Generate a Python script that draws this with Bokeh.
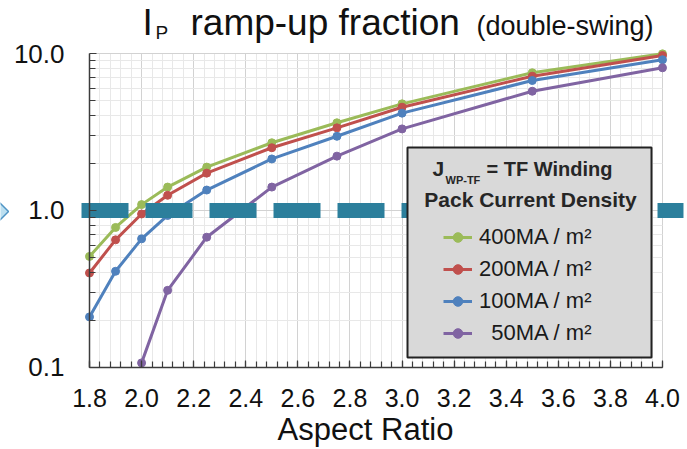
from bokeh.plotting import figure
from bokeh.models import (Range1d, FixedTicker, BoxAnnotation, PolyAnnotation, Label,
                          Legend, LegendItem)
from bokeh.embed import file_html
from bokeh.resources import INLINE
from bokeh.core.properties import value

# ---------------- data ----------------
aspect_ratio = [1.8, 1.9, 2.0, 2.1, 2.25, 2.5, 2.75, 3.0, 3.5, 4.0]
j400 = [0.51, 0.78, 1.09, 1.41, 1.89, 2.70, 3.62, 4.78, 7.54, 9.95]
j200 = [0.40, 0.65, 0.95, 1.25, 1.73, 2.51, 3.36, 4.55, 7.17, 9.71]
j100 = [0.21, 0.41, 0.66, 0.93, 1.35, 2.13, 2.97, 4.17, 6.73, 9.12]
aspect_ratio_50 = [2.0, 2.1, 2.25, 2.5, 2.75, 3.0, 3.5, 4.0]
j50 = [0.107, 0.31, 0.676, 1.41, 2.22, 3.31, 5.75, 8.11]

series_labels = ["400MA / m\u00b2", "200MA / m\u00b2", "100MA / m\u00b2", "\u200750MA / m\u00b2"]
series_colors = ["#9BBB59", "#C0504D", "#4F81BD", "#8064A2"]

x_major = [1.8, 2.0, 2.2, 2.4, 2.6, 2.8, 3.0, 3.2, 3.4, 3.6, 3.8, 4.0]
x_labels = ["1.8", "2.0", "2.2", "2.4", "2.6", "2.8", "3.0", "3.2", "3.4", "3.6", "3.8", "4.0"]
x_minor = [round(1.8 + 0.04 * i, 2) for i in range(56)]
y_major = [0.1, 1.0, 10.0]
y_labels = ["0.1", "1.0", "10.0"]
y_minor = [0.2, 0.3, 0.4, 0.5, 0.6, 0.7, 0.8, 0.9, 2, 3, 4, 5, 6, 7, 8, 9]
x_bounds = (1.8, 4.0)
y_bounds = (0.1, 10.0)
threshold = 1.0
threshold_x = [1.7693, 4.0806]   # dashed reference line extends a little past the axes

# ---------------- layout ----------------
W, H = 687, 449
# the frame covers the whole canvas; axes are placed with fixed_location
X_VIEW = (1.45828, 4.09599)
Y_VIEW = (0.030034, 21.76)

def fx(px):
    return px
def fy(py):
    return H - py

FONT = "Liberation Sans"

p = figure(width=W, height=H, output_backend="svg", toolbar_location=None,
           x_range=Range1d(*X_VIEW), y_range=Range1d(*Y_VIEW),
           y_axis_type="log", min_border=0, min_border_left=0, min_border_right=0,
           min_border_top=0, min_border_bottom=0,
           outline_line_color=None, background_fill_color="white",
           border_fill_color="white")

# axes
xt = FixedTicker(ticks=x_major, minor_ticks=x_minor)
yt = FixedTicker(ticks=y_major, minor_ticks=y_minor)
xa = p.xaxis[0]
ya = p.yaxis[0]
xa.ticker = xt
ya.ticker = yt
xa.bounds = x_bounds
ya.bounds = y_bounds
xa.fixed_location = y_bounds[0]
ya.fixed_location = x_bounds[0]
xa.major_label_overrides = dict(zip(x_major, x_labels))
ya.major_label_overrides = dict(zip(y_major, y_labels))
for ax in (xa, ya):
    ax.major_tick_in = 7
    ax.major_tick_out = 0
    ax.minor_tick_in = 6
    ax.minor_tick_out = 0
    ax.axis_line_color = "#3c3c3c"
    ax.axis_line_width = 1.5
    ax.major_tick_line_color = "#3c3c3c"
    ax.minor_tick_line_color = "#3c3c3c"
    ax.major_tick_line_width = 1.2
    ax.minor_tick_line_width = 1.2
    ax.major_label_text_font = FONT
    ax.major_label_text_color = "#111111"
xa.major_label_text_font_size = "25px"
xa.major_label_standoff = 22
ya.major_label_text_font_size = "26px"
ya.major_label_standoff = 25

# grids
p.xgrid.ticker = xt
p.ygrid.ticker = yt
p.xgrid.bounds = x_bounds
p.xgrid.cross_bounds = y_bounds
p.ygrid.bounds = y_bounds
p.ygrid.cross_bounds = x_bounds
for g in (p.xgrid[0], p.ygrid[0]):
    g.grid_line_color = "#d2d2d2"
    g.grid_line_width = 1
    g.minor_grid_line_color = "#e8e8e8"
    g.minor_grid_line_width = 1

# series
xs_list = [aspect_ratio, aspect_ratio, aspect_ratio, aspect_ratio_50]
ys_list = [j400, j200, j100, j50]
items = []
for xs, ys, lab, col in zip(xs_list, ys_list, series_labels, series_colors):
    rl = p.line(xs, ys, line_color=col, line_width=3)
    rs = p.scatter(xs, ys, size=8, fill_color=col, line_color=col)
    items.append(LegendItem(label=lab, renderers=[rl, rs]))

# threshold dashed line at 1.0
p.line(threshold_x, [threshold, threshold], line_color="#2c7f9c",
       line_width=15, line_dash="47 17")

# small arrow tip at the left edge
p.add_layout(PolyAnnotation(xs=[fx(-4), fx(8), fx(-4)], ys=[fy(199), fy(211), fy(223)],
                            xs_units="screen", ys_units="screen",
                            fill_color="#bcdff0", fill_alpha=1.0,
                            line_color="#4f94c4", line_width=1.5, line_alpha=1.0))

# legend box
p.add_layout(BoxAnnotation(left=fx(407), right=fx(651), top=fy(147), bottom=fy(357),
                           left_units="screen", right_units="screen",
                           top_units="screen", bottom_units="screen",
                           fill_color="#d9d9d9", fill_alpha=1.0,
                           line_color="#222222", line_width=2, line_alpha=1.0))

legend = Legend(items=items, location=(fx(443), fy(346)), orientation="vertical",
                background_fill_alpha=0, border_line_alpha=0, padding=0, margin=0,
                spacing=6, label_height=24, glyph_height=24, glyph_width=29,
                label_standoff=7, label_text_font_size="22px",
                label_text_font=FONT, label_text_color="#1a1a1a")
p.add_layout(legend, "center")

def lbl(text, px, py, size, bold=False, align="left", color="#111111"):
    # py is the visual baseline; Label's alphabetic baseline renders ~0.36em lower
    py_adj = py - 0.36 * size
    p.add_layout(Label(x=fx(px), y=fy(py_adj), x_units="screen", y_units="screen",
                       text=text, text_font=FONT, text_font_size=f"{size}px",
                       text_font_style="bold" if bold else "normal",
                       text_align=align, text_baseline="alphabetic",
                       text_color=color))

# legend title
lbl("J", 432, 176, 21, bold=True, color="#262626")
lbl("WP-TF", 445, 183, 11, bold=True, color="#262626")
lbl("= TF Winding", 486, 176, 20, bold=True, color="#262626")
lbl("Pack Current Density", 530, 207, 21, bold=True, align="center", color="#262626")

# chart title
lbl("I", 142, 35, 37)
lbl("P", 155, 39, 19)
lbl("ramp-up fraction", 190, 35, 37)
lbl("(double-swing)", 476, 35, 27)

# x axis title
lbl("Aspect Ratio", 365, 440, 31, align="center")

open("out.html", "w").write(file_html(p, INLINE))
